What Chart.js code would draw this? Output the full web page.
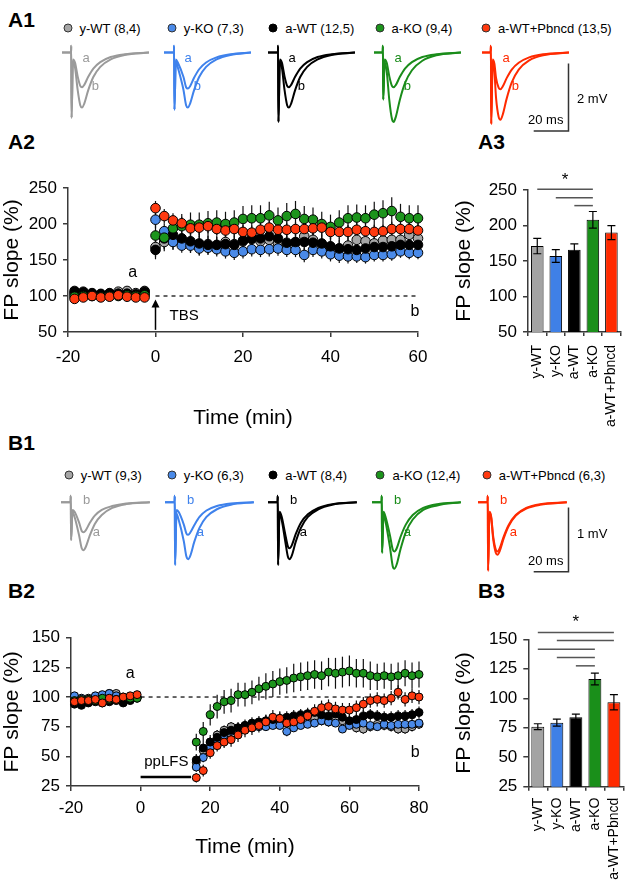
<!DOCTYPE html>
<html>
<head>
<meta charset="utf-8">
<script src="https://cdn.jsdelivr.net/npm/chart.js@4.4.0/dist/chart.umd.min.js"></script>
<style>
  html, body { margin: 0; padding: 0; background: #fff; }
  #fig { position: relative; width: 638px; height: 891px; overflow: hidden;
         font-family: 'Liberation Sans', Arial, sans-serif; color: #000; }
  #fig canvas { position: absolute; }
  .t { position: absolute; white-space: nowrap; line-height: 1; transform: translateY(-50%); }
  .panel { font-weight: bold; font-size: 21px; }
  .leg { font-size: 13px; }
  .dot { position: absolute; width: 9px; height: 9px; border-radius: 50%;
         border: 1px solid #333; box-sizing: border-box; transform: translate(-50%, -50%); }
</style>
</head>
<body>
<div id="fig"></div>
<script>
// ---- groups ----
const groups = ['y-WT', 'y-KO', 'a-WT', 'a-KO', 'a-WT+Pbncd'];
const dotColors = ['#a6a6a6', '#4a8ae8', '#000000', '#1c941c', '#ff3a10'];
const traceColors = ['#9a9a9a', '#3f82ec', '#000000', '#1a8c1a', '#ff2a00'];
const barColors = ['#a3a3a3', '#3f80e6', '#000000', '#1a8f1a', '#ff2a00'];
const a1Counts = ['(8,4)', '(7,3)', '(12,5)', '(9,4)', '(13,5)'];
const b1Counts = ['(9,3)', '(6,3)', '(8,4)', '(12,4)', '(6,3)'];

// ---- A1 example traces (ms, mV) ----
const a1Ms = [
  [0, 5.2, 5.3, 5.5, 6.3, 7.5, 9, 10.5, 11.5, 12.8, 15, 18, 22, 28, 36, 50],
  [0, 5.7, 5.8, 6, 6.8, 8, 11.2, 12.7, 13.7, 15, 17.2, 20.2, 24.2, 30.2, 38.2, 50],
  [0, 5.7, 5.8, 6, 6.8, 8, 9.5, 11, 12, 13.3, 15.5, 18.5, 22.5, 28.5, 36.5, 50],
  [0, 5, 5.1, 5.3, 6.1, 7.3, 8.8, 10.3, 11.3, 12.6, 14.8, 17.8, 21.8, 27.8, 35.8, 50],
  [0, 5, 5.1, 5.3, 6.1, 7.1, 8.1, 9.6, 10.6, 11.9, 14.1, 17.1, 21.1, 27.1, 35.1, 50]
];
const a1TraceA = [
  [0, 0, 0.2, -1.92, -0.2, -0.3, -0.7, -0.98, -1.02, -0.95, -0.72, -0.47, -0.28, -0.13, -0.05, 0],
  [0, 0, 0.2, -1.68, -0.2, -0.3, -0.72, -1.02, -1.06, -0.99, -0.75, -0.49, -0.29, -0.14, -0.05, 0],
  [0, 0, 0.2, -2.04, -0.2, -0.3, -0.7, -0.98, -1.02, -0.95, -0.72, -0.47, -0.28, -0.13, -0.05, 0],
  [0, 0, 0.2, -1.38, -0.2, -0.3, -0.7, -0.98, -1.02, -0.95, -0.72, -0.47, -0.28, -0.13, -0.05, 0],
  [0, 0, 0.2, -2.1, -0.2, -0.32, -0.75, -1.04, -1.08, -1.0, -0.76, -0.5, -0.3, -0.14, -0.05, 0]
];
const a1TraceB = [
  [0, 0, 0.2, -1.92, -0.25, -0.45, -1.1, -1.55, -1.62, -1.5, -1.12, -0.72, -0.42, -0.2, -0.07, 0],
  [0, 0, 0.2, -1.68, -0.25, -0.45, -1.1, -1.55, -1.62, -1.5, -1.12, -0.72, -0.42, -0.2, -0.07, 0],
  [0, 0, 0.2, -2.04, -0.25, -0.45, -1.1, -1.55, -1.62, -1.5, -1.12, -0.72, -0.42, -0.2, -0.07, 0],
  [0, 0, 0.2, -1.38, -0.3, -0.55, -1.4, -1.95, -2.04, -1.88, -1.4, -0.9, -0.52, -0.24, -0.08, 0],
  [0, 0, 0.2, -2.1, -0.3, -0.55, -1.35, -1.9, -1.98, -1.83, -1.37, -0.88, -0.5, -0.23, -0.08, 0]
];

// ---- B1 example traces (ms, mV) ----
const b1Ms = [
  [0, 5.5, 5.6, 5.8, 6.6, 7.8, 10.4, 11.9, 12.9, 14.2, 16.4, 19.4, 23.4, 29.4, 37.4, 51],
  [0, 5.5, 5.6, 5.8, 6.6, 7.8, 10.8, 12.3, 13.3, 14.6, 16.8, 19.8, 23.8, 29.8, 37.8, 51],
  [0, 5.5, 5.6, 5.8, 6.6, 7.8, 9.9, 11.4, 12.4, 13.7, 15.9, 18.9, 22.9, 28.9, 36.9, 51],
  [0, 5.5, 5.6, 5.8, 6.6, 7.8, 10.4, 11.9, 12.9, 14.2, 16.4, 19.4, 23.4, 29.4, 37.4, 51],
  [0, 5.5, 5.6, 5.8, 6.6, 7.6, 8.7, 10.2, 11.2, 12.5, 14.7, 17.7, 21.7, 27.7, 35.7, 51]
];
const b1TraceA = [
  [0, 0, 0.1, -0.59, -0.15, -0.23, -0.52, -0.72, -0.75, -0.7, -0.53, -0.34, -0.2, -0.09, -0.03, 0],
  [0, 0, 0.1, -0.98, -0.18, -0.27, -0.61, -0.85, -0.89, -0.83, -0.62, -0.4, -0.23, -0.11, -0.04, 0],
  [0, 0, 0.1, -0.98, -0.18, -0.27, -0.61, -0.85, -0.89, -0.83, -0.62, -0.4, -0.23, -0.11, -0.04, 0],
  [0, 0, 0.1, -0.79, -0.2, -0.31, -0.72, -1.0, -1.04, -0.97, -0.73, -0.47, -0.27, -0.12, -0.05, 0],
  [0, 0, 0.1, -1.07, -0.16, -0.25, -0.57, -0.79, -0.82, -0.76, -0.57, -0.37, -0.21, -0.1, -0.04, 0]
];
const b1TraceB = [
  [0, 0, 0.1, -0.59, -0.12, -0.15, -0.32, -0.45, -0.47, -0.44, -0.33, -0.21, -0.12, -0.06, -0.02, 0],
  [0, 0, 0.1, -0.98, -0.12, -0.15, -0.35, -0.49, -0.51, -0.47, -0.36, -0.23, -0.13, -0.06, -0.02, 0],
  [0, 0, 0.1, -0.98, -0.15, -0.22, -0.5, -0.69, -0.72, -0.67, -0.5, -0.32, -0.19, -0.09, -0.03, 0],
  [0, 0, 0.1, -0.79, -0.15, -0.23, -0.53, -0.74, -0.77, -0.72, -0.54, -0.35, -0.2, -0.09, -0.03, 0],
  [0, 0, 0.1, -1.07, -0.15, -0.23, -0.53, -0.74, -0.77, -0.72, -0.54, -0.35, -0.2, -0.09, -0.03, 0]
];

// ---- A2 time course (TBS) ----
const a2Time = [-18.5, -16.5, -14.5, -12.5, -10.5, -8.5, -6.5, -4.5, -2.5,
  0, 2, 4, 6, 8, 10, 12, 14, 16, 18, 20, 22, 24, 26, 28, 30, 32, 34, 36, 38, 40,
  42, 44, 46, 48, 50, 52, 54, 56, 58, 60];
const a2YWT = [104, 103, 103, 102, 103, 106, 107, 104, 107,
  168, 175, 178, 175, 172, 170, 172, 170, 175, 172, 176, 182, 176, 178, 173, 172, 174, 183, 178, 172, 168,
  166, 170, 178, 176, 173, 177, 178, 178, 185, 180];
const a2YKO = [102, 101, 102, 101, 102, 103, 103, 102, 103,
  206, 190, 175, 170, 170, 166, 167, 165, 162, 160, 162, 165, 164, 165, 166, 164, 164, 157, 164, 162, 158,
  156, 155, 155, 154, 157, 157, 158, 162, 160, 160];
const a2AWT = [107, 106, 104, 103, 104, 103, 103, 102, 106,
  164, 180, 185, 180, 176, 173, 171, 171, 172, 171, 177, 179, 180, 183, 180, 174, 175, 175, 174, 173, 169,
  166, 165, 164, 166, 168, 168, 169, 171, 171, 171];
const a2AKO = [99, 100, 100, 99, 100, 100, 101, 100, 101,
  184, 181, 194, 197, 199, 199, 201, 202, 200, 202, 207, 208, 208, 212, 205, 211, 214, 207, 206, 200, 196,
  202, 208, 209, 208, 213, 215, 218, 210, 208, 208];
const a2Pbncd = [96, 98, 100, 98, 99, 101, 99, 98, 98,
  222, 211, 205, 201, 194, 195, 197, 193, 191, 193, 189, 188, 192, 195, 192, 192, 193, 193, 194, 195, 189,
  189, 189, 192, 190, 189, 190, 193, 193, 193, 191];
const a2YWTsem = [4, 4, 3, 4, 3, 4, 4, 3, 4,
  14, 13, 13, 12, 12, 13, 12, 12, 13, 12, 13, 12, 13, 13, 12, 12, 13, 14, 13, 12, 12,
  12, 13, 13, 12, 12, 13, 13, 12, 14, 13];
const a2YKOsem = [3, 3, 3, 3, 3, 3, 3, 3, 3,
  12, 11, 11, 10, 10, 10, 10, 10, 10, 10, 10, 10, 10, 10, 10, 10, 10, 10, 10, 10, 10,
  10, 10, 9, 9, 9, 9, 9, 9, 9, 9];
const a2AWTsem = [4, 4, 4, 4, 4, 4, 4, 4, 4,
  13, 14, 14, 14, 14, 14, 13, 13, 13, 13, 13, 13, 14, 14, 14, 13, 13, 13, 13, 13, 13,
  14, 14, 14, 14, 13, 13, 13, 13, 13, 13];
const a2AKOsem = [3, 3, 3, 3, 3, 3, 3, 3, 3,
  15, 16, 16, 17, 17, 17, 17, 17, 17, 17, 18, 18, 18, 19, 18, 18, 18, 18, 17, 17, 17,
  17, 18, 18, 18, 18, 18, 19, 18, 18, 18];
const a2Pbncdsem = [3, 3, 3, 3, 3, 3, 3, 3, 3,
  10, 10, 10, 9, 10, 10, 10, 9, 10, 10, 10, 10, 10, 9, 10, 10, 10, 10, 10, 9, 10,
  10, 10, 10, 10, 10, 9, 10, 10, 10, 10];

// ---- B2 time course (ppLFS) ----
const b2Time = [-19, -17, -15, -13, -11, -9, -7, -5, -3, -1,
  16, 18, 20, 22, 24, 26, 28, 30, 32, 34, 36, 38, 40, 42, 44, 46, 48, 50, 52, 54,
  56, 58, 60, 62, 64, 66, 68, 70, 72, 74, 76, 78, 80];
const b2YWT = [98, 97, 99, 100, 101, 103, 103, 98, 99, 100,
  45, 55, 62, 68, 72, 75, 74, 76, 77, 78, 78, 79, 80, 80, 81, 80, 82, 82, 80, 79,
  80, 80, 78, 74, 73, 75, 77, 76, 75, 73, 73, 75, 77];
const b2YKO = [101, 99, 98, 101, 102, 103, 101, 96, 99, 100,
  41, 49, 57, 64, 68, 71, 72, 74, 74, 75, 75, 76, 76, 71, 74, 76, 77, 78, 80, 79,
  78, 73, 76, 77, 78, 76, 75, 77, 76, 77, 77, 77, 78];
const b2AWT = [94, 93, 95, 96, 95, 96, 97, 95, 97, 99,
  47, 57, 62, 66, 70, 72, 74, 76, 78, 79, 80, 81, 82, 83, 84, 85, 86, 87, 85, 84,
  86, 83, 80, 81, 84, 85, 84, 83, 83, 84, 84, 85, 87];
const b2AKO = [97, 98, 98, 97, 99, 98, 98, 100, 99, 99,
  62, 71, 85, 92, 96, 97, 102, 102, 104, 107, 109, 111, 113, 114, 116, 117, 118, 119, 118, 121,
  120, 121, 122, 120, 120, 118, 117, 118, 117, 118, 120, 118, 119];
const b2Pbncd = [96, 97, 97, 98, 95, 99, 98, 100, 101, 102,
  32, 38, 53, 59, 62, 64, 68, 72, 74, 76, 79, 83, 82, 78, 79, 81, 84, 88, 91, 92,
  90, 89, 89, 91, 94, 97, 98, 97, 99, 104, 98, 101, 100];
const b2YWTsem = [2, 2, 2, 2, 2, 2, 2, 2, 2, 2,
  4, 4, 4, 4, 4, 4, 4, 4, 4, 4, 4, 4, 4, 4, 4, 4, 4, 4, 4, 4,
  4, 4, 4, 4, 4, 4, 4, 4, 4, 4, 4, 4, 4];
const b2YKOsem = [2, 2, 2, 2, 2, 2, 2, 2, 2, 2,
  4, 4, 4, 3, 3, 3, 3, 3, 3, 3, 3, 3, 3, 4, 3, 3, 3, 3, 3, 3,
  3, 3, 3, 3, 3, 3, 3, 3, 3, 3, 3, 3, 3];
const b2AWTsem = [2, 2, 2, 2, 2, 2, 2, 2, 2, 2,
  5, 6, 6, 6, 5, 5, 5, 5, 5, 5, 5, 5, 5, 5, 5, 5, 5, 5, 5, 5,
  5, 5, 5, 5, 5, 5, 5, 5, 5, 5, 5, 5, 5];
const b2AKOsem = [2, 2, 2, 2, 2, 2, 2, 2, 2, 2,
  7, 8, 9, 10, 10, 10, 10, 10, 10, 10, 11, 11, 11, 11, 12, 12, 12, 12, 12, 12,
  13, 13, 13, 12, 12, 12, 11, 11, 11, 11, 11, 11, 11];
const b2Pbncdsem = [2, 2, 2, 2, 2, 2, 2, 2, 2, 2,
  4, 5, 5, 5, 5, 6, 6, 6, 6, 6, 6, 6, 6, 6, 6, 6, 6, 6, 6, 6,
  6, 6, 6, 6, 6, 6, 6, 6, 6, 6, 6, 6, 6];

// ---- A3 / B3 summary bars ----
const a3Mean = [171, 157, 166, 208, 190];
const a3Sem = [10.8, 8.9, 8.2, 11.7, 9.9];
const a3SigPairs = [[0, 3], [1, 3], [2, 3]];
const a3SigLevels = [251, 239, 228];
const b3Mean = [75.9, 79.3, 84, 116.4, 96.6];
const b3Sem = [2.5, 3, 2.5, 5, 6.5];
const b3SigPairs = [[0, 4], [1, 4], [0, 3], [1, 3], [2, 3]];
const b3SigLevels = [155.7, 149, 141.6, 134.5, 127.5];

const FONT = "'Liberation Sans', Arial, sans-serif";
const AX = '#3a3a3a';
Chart.defaults.font.family = FONT;
Chart.defaults.color = '#000';

const fig = document.getElementById('fig');

function makeCanvas(left, top, w, h) {
  const c = document.createElement('canvas');
  c.width = w; c.height = h;
  c.style.left = left + 'px'; c.style.top = top + 'px';
  c.style.width = w + 'px'; c.style.height = h + 'px';
  fig.appendChild(c);
  return c;
}

function text(str, x, y, cls, extra) {
  const d = document.createElement('div');
  d.className = 't ' + (cls || '');
  d.textContent = str;
  d.style.left = x + 'px';
  d.style.top = y + 'px';
  if (extra) Object.assign(d.style, extra);
  fig.appendChild(d);
  return d;
}

function legendRow(y, dotX, counts) {
  groups.forEach((g, i) => {
    const dot = document.createElement('div');
    dot.className = 'dot';
    dot.style.left = dotX[i] + 'px';
    dot.style.top = y + 'px';
    dot.style.background = dotColors[i];
    if (i === 2) dot.style.borderColor = '#000';
    fig.appendChild(dot);
    text(g + ' ' + counts[i], dotX[i] + 12, y, 'leg');
  });
}

// labels drawn in data space of a chart
const notePlugin = {
  id: 'notes',
  afterDatasetsDraw(chart, args, opts) {
    const { ctx, scales: { x, y } } = chart;
    ctx.save();
    (opts.items || []).forEach(n => {
      ctx.font = (n.size || 16) + 'px ' + FONT;
      ctx.fillStyle = n.color || '#000';
      ctx.textAlign = n.align || 'center';
      ctx.textBaseline = 'middle';
      ctx.fillText(n.text, x.getPixelForValue(n.x), y.getPixelForValue(n.y));
    });
    if (opts.arrow) {
      const a = opts.arrow;
      const px = x.getPixelForValue(a.x);
      const y0 = y.getPixelForValue(a.from), y1 = y.getPixelForValue(a.to);
      ctx.strokeStyle = '#000'; ctx.fillStyle = '#000'; ctx.lineWidth = 1.5;
      ctx.beginPath(); ctx.moveTo(px, y0); ctx.lineTo(px, y1 + 4); ctx.stroke();
      ctx.beginPath(); ctx.moveTo(px, y1); ctx.lineTo(px - 4, y1 + 8); ctx.lineTo(px + 4, y1 + 8);
      ctx.closePath(); ctx.fill();
    }
    ctx.restore();
  }
};

// vertical SEM lines under the points
const semPlugin = {
  id: 'sem',
  beforeDatasetsDraw(chart) {
    const { ctx, scales: { x, y } } = chart;
    ctx.save();
    ctx.strokeStyle = '#111';
    ctx.lineWidth = 1.2;
    chart.data.datasets.forEach(ds => {
      if (!ds.sem) return;
      ds.data.forEach((p, i) => {
        const px = x.getPixelForValue(p.x);
        ctx.beginPath();
        ctx.moveTo(px, y.getPixelForValue(p.y - ds.sem[i]));
        ctx.lineTo(px, y.getPixelForValue(p.y + ds.sem[i]));
        ctx.stroke();
      });
    });
    ctx.restore();
  }
};

function traceChart(left, top, w, h, xMax, yMin, yMax, gi, ms, va, vb, notes) {
  const c = makeCanvas(left, top, w, h);
  const pts = v => ms.map((t, i) => ({ x: t, y: v[i] }));
  const line = v => ({
    data: pts(v), borderColor: traceColors[gi], borderWidth: 2,
    pointRadius: 0, cubicInterpolationMode: 'monotone', clip: false
  });
  new Chart(c, {
    type: 'line',
    data: { datasets: [line(va), line(vb)] },
    options: {
      responsive: false, animation: false,
      layout: { padding: 0 },
      plugins: { legend: { display: false }, tooltip: { enabled: false },
        notes: { items: notes.map(n => Object.assign({ color: traceColors[gi], size: 13 }, n)) } },
      scales: {
        x: { type: 'linear', min: 0, max: xMax, display: false },
        y: { min: yMin, max: yMax, display: false }
      }
    },
    plugins: [notePlugin]
  });
}

function scaleBar(left, top, w, h, pad, msLen, mvLen) {
  const c = makeCanvas(left, top, w, h);
  new Chart(c, {
    type: 'line',
    data: { datasets: [{
      data: [{ x: 0, y: 0 }, { x: msLen, y: 0 }, { x: msLen, y: mvLen }],
      borderColor: '#333', borderWidth: 1.5, pointRadius: 0, tension: 0, clip: false
    }] },
    options: {
      responsive: false, animation: false,
      layout: { padding: pad },
      plugins: { legend: { display: false }, tooltip: { enabled: false } },
      scales: {
        x: { type: 'linear', min: 0, max: msLen, display: false },
        y: { min: 0, max: mvLen, display: false }
      }
    }
  });
}

function axisStyle() {
  return {
    grid: { display: true, drawOnChartArea: false, drawTicks: true, tickLength: 5, color: AX, lineWidth: 1.5 },
    border: { display: true, color: AX, width: 1.5 }
  };
}

function timeCourse(cfg) {
  const c = makeCanvas(cfg.left, cfg.top, cfg.w, cfg.h);
  const datasets = [];
  cfg.series.forEach((s, i) => {
    datasets.push({
      data: cfg.time.map((t, k) => ({ x: t, y: s[k] })),
      sem: cfg.sems[i],
      showLine: false,
      pointRadius: cfg.radius,
      pointBackgroundColor: dotColors[i],
      pointBorderColor: '#000',
      pointBorderWidth: 1,
      order: [4, 3, 2, 1, 0][i],
      clip: false
    });
  });
  datasets.push({
    data: cfg.dashed, showLine: true, borderColor: '#000', borderWidth: 1.2,
    borderDash: [4, 4], pointRadius: 0, order: 10
  });
  if (cfg.stim) {
    datasets.push({
      data: cfg.stim, showLine: true, borderColor: '#000', borderWidth: 2.5,
      pointRadius: 0, order: 9, clip: false
    });
  }
  const xs = axisStyle(), ys = axisStyle();
  new Chart(c, {
    type: 'line',
    data: { datasets },
    options: {
      responsive: false, animation: false,
      layout: { padding: { top: cfg.padTop, right: cfg.padRight, left: 0, bottom: 0 } },
      plugins: { legend: { display: false }, tooltip: { enabled: false },
        notes: { items: cfg.notes, arrow: cfg.arrow } },
      scales: {
        x: Object.assign(xs, {
          type: 'linear', min: cfg.xMin, max: cfg.xMax,
          ticks: { stepSize: 20, font: { size: 17 }, color: '#000', padding: cfg.xTickPad },
          title: { display: true, text: 'Time (min)', font: { size: 21 }, color: '#000',
                   padding: { top: 0, bottom: cfg.xTitlePad } },
          afterFit: s => { s.height = cfg.xH; }
        }),
        y: Object.assign(ys, {
          min: cfg.yMin, max: cfg.yMax,
          ticks: { stepSize: cfg.yStep, font: { size: 17 }, color: '#000', padding: 6 },
          title: { display: true, text: 'FP slope (%)', font: { size: 21 }, color: '#000',
                   padding: { top: 0, bottom: 0 } },
          afterFit: s => { s.width = cfg.yW; }
        })
      }
    },
    plugins: [semPlugin, notePlugin]
  });
}

const barPlugin = {
  id: 'barExtras',
  afterDatasetsDraw(chart, args, opts) {
    const { ctx, scales: { x, y } } = chart;
    const meta = chart.getDatasetMeta(0);
    ctx.save();
    ctx.strokeStyle = '#000';
    ctx.lineWidth = 1.2;
    meta.data.forEach((bar, i) => {
      const m = opts.mean[i], e = opts.sem[i];
      const yt = y.getPixelForValue(m + e), yb = y.getPixelForValue(m - e);
      ctx.beginPath();
      ctx.moveTo(bar.x, yt); ctx.lineTo(bar.x, yb);
      ctx.moveTo(bar.x - 4, yt); ctx.lineTo(bar.x + 4, yt);
      ctx.moveTo(bar.x - 4, yb); ctx.lineTo(bar.x + 4, yb);
      ctx.stroke();
    });
    ctx.strokeStyle = '#555';
    ctx.lineWidth = 1.5;
    opts.pairs.forEach((p, k) => {
      const yy = y.getPixelForValue(opts.levels[k]);
      ctx.beginPath();
      ctx.moveTo(meta.data[p[0]].x, yy);
      ctx.lineTo(meta.data[p[1]].x, yy);
      ctx.stroke();
    });
    const p0 = opts.pairs[0];
    ctx.fillStyle = '#000';
    ctx.font = '17px ' + FONT;
    ctx.textAlign = 'center';
    ctx.textBaseline = 'middle';
    ctx.fillText('*', (meta.data[p0[0]].x + meta.data[p0[1]].x) / 2, y.getPixelForValue(opts.star));
    ctx.restore();
  }
};

function barChart(cfg) {
  const c = makeCanvas(cfg.left, cfg.top, cfg.w, cfg.h);
  const xs = axisStyle(), ys = axisStyle();
  xs.grid.tickLength = 4;
  new Chart(c, {
    type: 'bar',
    data: { labels: groups, datasets: [{
      data: cfg.mean, backgroundColor: barColors, borderColor: '#000', borderWidth: 1,
      borderSkipped: false, barPercentage: 0.68, categoryPercentage: 1
    }] },
    options: {
      responsive: false, animation: false,
      layout: { padding: { top: cfg.padTop, right: cfg.padRight, left: 0, bottom: 0 } },
      plugins: { legend: { display: false }, tooltip: { enabled: false },
        barExtras: { mean: cfg.mean, sem: cfg.sem, pairs: cfg.pairs, levels: cfg.levels, star: cfg.star } },
      scales: {
        x: Object.assign(xs, {
          ticks: { minRotation: 90, maxRotation: 90, autoSkip: false, font: { size: 14 },
                   color: '#000', padding: cfg.xTickPad },
          afterFit: s => { s.height = cfg.xH; }
        }),
        y: Object.assign(ys, {
          min: cfg.yMin, max: cfg.yMax,
          ticks: { stepSize: cfg.yStep, font: { size: 17 }, color: '#000', padding: 6 },
          title: { display: true, text: 'FP slope (%)', font: { size: 21 }, color: '#000',
                   padding: { top: cfg.yTitlePad, bottom: 0 } },
          afterFit: s => { s.width = cfg.yW; }
        })
      }
    },
    plugins: [barPlugin]
  });
}

// ---- panel letters ----
text('A1', 8, 19, 'panel');
text('A2', 8, 141, 'panel');
text('A3', 478, 141, 'panel');
text('B1', 8, 442, 'panel');
text('B2', 8, 590, 'panel');
text('B3', 478, 590, 'panel');

// ---- A1 ----
legendRow(28, [67.5, 171.8, 273.2, 379.6, 485.9], a1Counts);
const a1Left = [62, 164, 268, 374, 482];
a1Left.forEach((l, i) => {
  traceChart(l, 39, 87, 89, 50, -2.22, 0.4, i, a1Ms[i], a1TraceA[i], a1TraceB[i],
    [{ text: 'a', x: 13.8, y: -0.16 }, { text: 'b', x: 19.2, y: -1.0 }]);
});
scaleBar(530, 60, 42, 75, { left: 3.7, right: 3.5, top: 3.4, bottom: 4.1 }, 20, 2);
text('2 mV', 577, 98, 'leg');
text('20 ms', 528, 118.5, 'leg');

// ---- B1 ----
legendRow(475, [68.7, 171.8, 273.2, 380.4, 486.7], b1Counts);
const b1Left = [61, 165, 268, 372, 478];
b1Left.forEach((l, i) => {
  traceChart(l, 483, 89, 93, 51.1, -1.153, 0.3, i, b1Ms[i], b1TraceA[i], b1TraceB[i],
    [{ text: 'b', x: 14.7, y: 0.03 }, { text: 'a', x: 20.3, y: -0.47 }]);
});
scaleBar(530, 504, 42, 72, { left: 3.7, right: 3.5, top: 3.5, bottom: 4.3 }, 20, 1);
text('1 mV', 577, 533, 'leg');
text('20 ms', 528, 560, 'leg');

// ---- A2 ----
timeCourse({
  left: 0, top: 130, w: 440, h: 305, padTop: 58, padRight: 22, yW: 68, xH: 103,
  xMin: -20, xMax: 60, yMin: 50, yMax: 250, yStep: 50, xTickPad: 10, xTitlePad: 4,
  radius: 4.8, time: a2Time,
  series: [a2YWT, a2YKO, a2AWT, a2AKO, a2Pbncd],
  sems: [a2YWTsem, a2YKOsem, a2AWTsem, a2AKOsem, a2Pbncdsem],
  dashed: [{ x: 0, y: 100 }, { x: 60, y: 100 }],
  notes: [{ text: 'a', x: -5.2, y: 133 }, { text: 'b', x: 59.3, y: 78 },
          { text: 'TBS', x: 3.2, y: 72, align: 'left', size: 15 }],
  arrow: { x: 0, from: 53, to: 95 }
});

// ---- A3 ----
barChart({
  left: 420, top: 130, w: 218, h: 300, padTop: 60, padRight: 8, yW: 108, xH: 98,
  yMin: 50, yMax: 250, yStep: 50, xTickPad: 9, yTitlePad: 32,
  mean: a3Mean, sem: a3Sem, pairs: a3SigPairs, levels: a3SigLevels, star: 264
});

// ---- B2 ----
timeCourse({
  left: 0, top: 590, w: 440, h: 280, padTop: 47.7, padRight: 21, yW: 71, xH: 84,
  xMin: -20, xMax: 80, yMin: 25, yMax: 150, yStep: 25, xTickPad: 7, xTitlePad: 10,
  radius: 4, time: b2Time,
  series: [b2YWT, b2YKO, b2AWT, b2AKO, b2Pbncd],
  sems: [b2YWTsem, b2YKOsem, b2AWTsem, b2AKOsem, b2Pbncdsem],
  dashed: [{ x: 0, y: 100 }, { x: 80, y: 100 }],
  stim: [{ x: 0, y: 32.5 }, { x: 14.5, y: 32.5 }],
  notes: [{ text: 'a', x: -3, y: 120 }, { text: 'b', x: 78.9, y: 53 },
          { text: 'ppLFS', x: 7.4, y: 45, size: 15 }]
});

// ---- B3 ----
barChart({
  left: 420, top: 590, w: 218, h: 300, padTop: 49.3, padRight: 3, yW: 108.3, xH: 103.3,
  yMin: 25, yMax: 150, yStep: 25, xTickPad: 7, yTitlePad: 32,
  mean: b3Mean, sem: b3Sem, pairs: b3SigPairs, levels: b3SigLevels, star: 164
});
</script>
</body>
</html>
